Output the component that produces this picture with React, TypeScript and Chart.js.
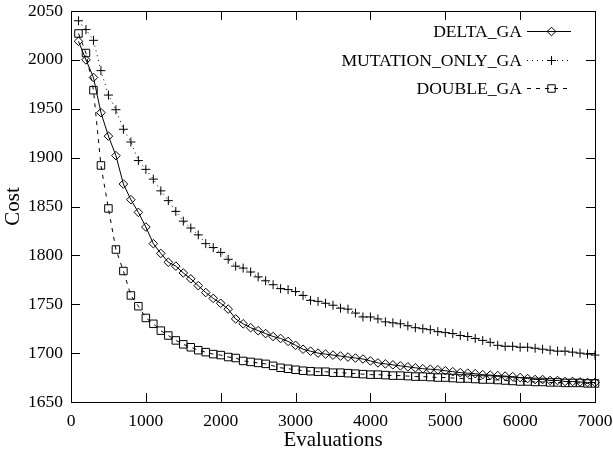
import React, { useEffect, useRef } from "react";
import { Chart, registerables } from "chart.js";

Chart.register(...registerables);

const evaluations = [
  100, 200, 300, 400, 500, 600, 700, 800, 900, 1000,
  1100, 1200, 1300, 1400, 1500, 1600, 1700, 1800, 1900, 2000,
  2100, 2200, 2300, 2400, 2500, 2600, 2700, 2800, 2900, 3000,
  3100, 3200, 3300, 3400, 3500, 3600, 3700, 3800, 3900, 4000,
  4100, 4200, 4300, 4400, 4500, 4600, 4700, 4800, 4900, 5000,
  5100, 5200, 5300, 5400, 5500, 5600, 5700, 5800, 5900, 6000,
  6100, 6200, 6300, 6400, 6500, 6600, 6700, 6800, 6900, 7000,
];

const deltaGA = [
  2019, 2000, 1982, 1946, 1922, 1902, 1873, 1857, 1844, 1829,
  1812, 1802, 1793, 1789, 1782, 1776, 1769, 1762, 1756, 1751,
  1745, 1735, 1730, 1726, 1723, 1720, 1717, 1715, 1712, 1708,
  1704, 1702, 1700, 1699, 1698, 1697, 1696, 1695, 1694, 1692,
  1690, 1689, 1688, 1687, 1686, 1685, 1684, 1683.5, 1683, 1682,
  1681, 1680, 1679.5, 1679, 1678, 1677.5, 1677, 1676.5, 1676, 1675,
  1674, 1673, 1673, 1672, 1672, 1671, 1671, 1670.5, 1670, 1670,
];

const mutationOnlyGA = [
  2040, 2031, 2020, 1989, 1964, 1949, 1929, 1916, 1897, 1888,
  1878, 1866, 1856, 1845, 1835, 1828, 1821, 1812, 1808, 1803,
  1796, 1789, 1787, 1783, 1778, 1774, 1770, 1766, 1765, 1763,
  1759, 1754, 1753, 1751, 1749, 1746, 1745, 1741, 1737, 1737,
  1735, 1732, 1731, 1730, 1728, 1726, 1725, 1724, 1722, 1721,
  1720, 1718, 1717, 1715, 1713, 1711, 1708, 1707, 1707, 1706,
  1706, 1705, 1704, 1703, 1702, 1702, 1701, 1700, 1699, 1698,
];

const doubleGA = [
  2027, 2007, 1969, 1892, 1848, 1806, 1784, 1759, 1748, 1736,
  1730, 1723, 1718, 1713, 1709, 1706, 1703, 1701, 1699, 1698,
  1696, 1695, 1692, 1691, 1690, 1689, 1687, 1685, 1684, 1683,
  1682, 1681.5, 1681, 1681, 1680, 1680, 1679.5, 1679, 1678.5, 1678,
  1678, 1677.5, 1677, 1677, 1676.5, 1676, 1676, 1675.5, 1675, 1675,
  1674.5, 1674, 1674, 1673.5, 1673, 1673, 1672.5, 1672, 1671.5, 1671,
  1671, 1670.5, 1670.5, 1670, 1670, 1669.5, 1669.5, 1669.5, 1669, 1669,
];

const seriesNames = ["DELTA_GA", "MUTATION_ONLY_GA", "DOUBLE_GA"];
const xTicks = [0, 1000, 2000, 3000, 4000, 5000, 6000, 7000];
const yTicks = [1650, 1700, 1750, 1800, 1850, 1900, 1950, 2000, 2050];

const FONT = "'Liberation Serif', 'Times New Roman', serif";

function drawMarker(ctx: CanvasRenderingContext2D, style: string, x: number, y: number, r: number) {
  ctx.beginPath();
  if (style === "rectRot") {
    ctx.moveTo(x - r, y);
    ctx.lineTo(x, y - r);
    ctx.lineTo(x + r, y);
    ctx.lineTo(x, y + r);
    ctx.closePath();
  } else if (style === "cross") {
    ctx.moveTo(x - r, y);
    ctx.lineTo(x + r, y);
    ctx.moveTo(x, y - r);
    ctx.lineTo(x, y + r);
  } else {
    const s = Math.SQRT1_2 * r;
    ctx.rect(x - s, y - s, 2 * s, 2 * s);
  }
  ctx.stroke();
}

const framePlugin = {
  id: "gnuplotFrame",
  afterDraw(chart: any) {
    const ctx: CanvasRenderingContext2D = chart.ctx;
    const { left, right, top, bottom } = chart.chartArea;
    const xs = chart.scales.x;
    const ys = chart.scales.y;
    ctx.save();
    ctx.strokeStyle = "#000";
    ctx.lineWidth = 1;
    ctx.setLineDash([]);
    ctx.strokeRect(Math.round(left) + 0.5, Math.round(top) + 0.5, Math.round(right - left), Math.round(bottom - top));
    const tl = 9;
    ctx.beginPath();
    xTicks.forEach((v) => {
      const px = Math.round(xs.getPixelForValue(v)) + 0.5;
      ctx.moveTo(px, bottom);
      ctx.lineTo(px, bottom - tl);
      ctx.moveTo(px, top);
      ctx.lineTo(px, top + tl);
    });
    yTicks.forEach((v) => {
      const py = Math.round(ys.getPixelForValue(v)) + 0.5;
      ctx.moveTo(left, py);
      ctx.lineTo(left + tl, py);
      ctx.moveTo(right, py);
      ctx.lineTo(right - tl, py);
    });
    ctx.stroke();

    // legend (gnuplot style: text, then sample line with marker)
    const rows = [31, 60, 88];
    ctx.font = `17.6px ${FONT}`;
    ctx.fillStyle = "#000";
    ctx.textAlign = "right";
    ctx.textBaseline = "middle";
    chart.data.datasets.forEach((ds: any, i: number) => {
      const y = rows[i];
      ctx.fillText(ds.label, 522, y + 1);
      ctx.setLineDash(ds.borderDash || []);
      ctx.beginPath();
      ctx.moveTo(527, y + 0.5);
      ctx.lineTo(571, y + 0.5);
      ctx.stroke();
      ctx.setLineDash([]);
      drawMarker(ctx, ds.pointStyle, 551.5, y + 0.5, ds.pointRadius);
    });
    ctx.restore();
  },
};

export default function App() {
  const ref = useRef<HTMLCanvasElement | null>(null);

  useEffect(() => {
    document.body.style.margin = "0";
    const canvas = ref.current!;
    const mk = (vals: number[]) => evaluations.map((e, i) => ({ x: e, y: vals[i] }));
    const chart = new Chart(canvas, {
      type: "line",
      data: {
        datasets: [
          {
            label: seriesNames[0],
            data: mk(deltaGA),
            borderColor: "#000",
            backgroundColor: "rgba(0,0,0,0)",
            borderWidth: 1,
            pointStyle: "rectRot",
            pointRadius: 4.3,
            pointBorderWidth: 1,
            pointBorderColor: "#000",
            pointBackgroundColor: "rgba(0,0,0,0)",
            tension: 0,
            clip: false,
          } as any,
          {
            label: seriesNames[1],
            data: mk(mutationOnlyGA),
            borderColor: "#000",
            backgroundColor: "rgba(0,0,0,0)",
            borderWidth: 1,
            borderDash: [1, 4],
            pointStyle: "cross",
            pointRadius: 4.5,
            pointBorderWidth: 1,
            pointBorderColor: "#000",
            pointBackgroundColor: "rgba(0,0,0,0)",
            tension: 0,
            clip: false,
          } as any,
          {
            label: seriesNames[2],
            data: mk(doubleGA),
            borderColor: "#000",
            backgroundColor: "rgba(0,0,0,0)",
            borderWidth: 1,
            borderDash: [4, 5],
            pointStyle: "rect",
            pointRadius: 5.3,
            pointBorderWidth: 1,
            pointBorderColor: "#000",
            pointBackgroundColor: "rgba(0,0,0,0)",
            tension: 0,
            clip: false,
          } as any,
        ],
      },
      options: {
        responsive: false,
        animation: false,
        events: [],
        layout: { padding: { left: 0, right: 18, top: 11, bottom: 0 } },
        plugins: {
          legend: { display: false },
          tooltip: { enabled: false },
        },
        scales: {
          x: {
            type: "linear",
            min: 0,
            max: 7000,
            afterBuildTicks: (scale: any) => {
              scale.ticks = xTicks.map((v) => ({ value: v }));
            },
            afterFit: (scale: any) => {
              scale.height = 51;
              scale.paddingLeft = 0;
              scale.paddingRight = 0;
            },
            grid: { display: false, drawTicks: false },
            border: { display: false },
            ticks: {
              color: "#000",
              font: { family: FONT, size: 17.5 },
              padding: 9,
              maxRotation: 0,
              autoSkip: false,
              callback: (v: any) => String(v),
            },
            title: {
              display: true,
              text: "Evaluations",
              color: "#000",
              font: { family: FONT, size: 21 },
              padding: { top: 0, bottom: 0 },
            },
          },
          y: {
            type: "linear",
            min: 1650,
            max: 2050,
            afterBuildTicks: (scale: any) => {
              scale.ticks = yTicks.map((v) => ({ value: v }));
            },
            afterFit: (scale: any) => {
              scale.width = 71;
              scale.paddingTop = 0;
              scale.paddingBottom = 0;
            },
            grid: { display: false, drawTicks: false },
            border: { display: false },
            ticks: {
              color: "#000",
              font: { family: FONT, size: 17.5 },
              padding: 8,
              autoSkip: false,
              callback: (v: any) => String(v),
            },
            title: {
              display: true,
              text: "Cost",
              color: "#000",
              font: { family: FONT, size: 21 },
              padding: { top: 1, bottom: 0 },
            },
          },
        },
      },
      plugins: [framePlugin],
    });
    return () => chart.destroy();
  }, []);

  return (
    <div style={{ position: "absolute", left: 0, top: 0, width: 613, height: 453, background: "#fff" }}>
      <canvas ref={ref} width={613} height={453} style={{ display: "block", width: 613, height: 453 }} />
    </div>
  );
}
